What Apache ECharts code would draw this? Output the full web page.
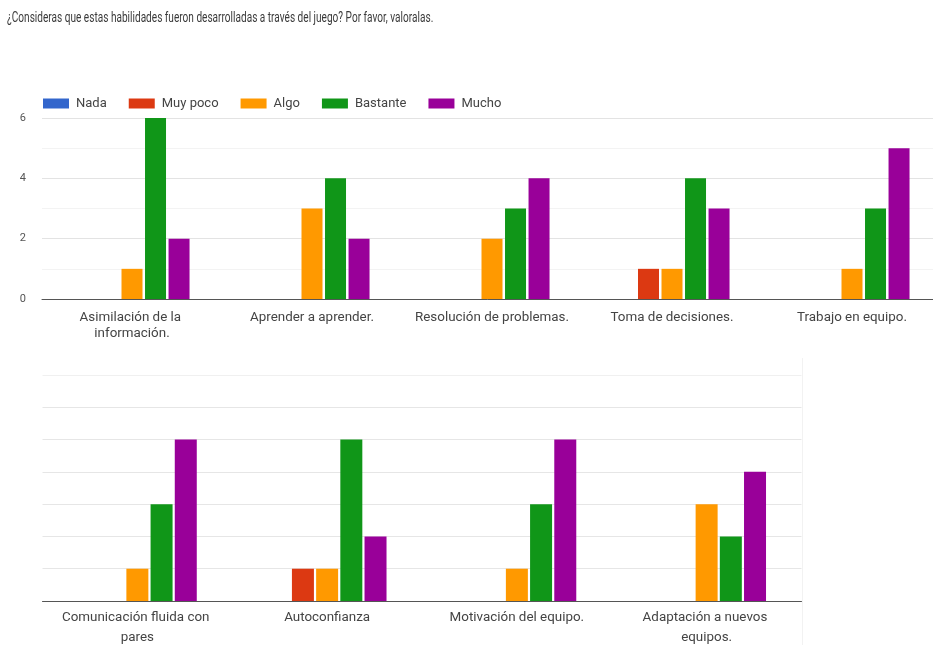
<!DOCTYPE html>
<html>
<head>
<meta charset="utf-8">
<script src="https://cdn.jsdelivr.net/npm/echarts@6/dist/echarts.min.js"></script>
<style>
  html, body { margin: 0; padding: 0; background: #fff; }
  #chart { width: 933px; height: 645px; }
</style>
</head>
<body>
<div id="chart"></div>
<script>
const titleText = "¿Consideras que estas habilidades fueron desarrolladas a través del juego? Por favor, valoralas.";
const levels = ["Nada", "Muy poco", "Algo", "Bastante", "Mucho"];
const levelColors = ["#3366cc", "#dc3912", "#ff9900", "#109618", "#990099"];

const topCategories = ["Asimilación de la información.", "Aprender a aprender.", "Resolución de problemas.", "Toma de decisiones.", "Trabajo en equipo."];
const topNada     = [0, 0, 0, 0, 0];
const topMuyPoco  = [0, 0, 0, 1, 0];
const topAlgo     = [1, 3, 2, 1, 1];
const topBastante = [6, 4, 3, 4, 3];
const topMucho    = [2, 2, 4, 3, 5];

const bottomCategories = ["Comunicación fluida con pares", "Autoconfianza", "Motivación del equipo.", "Adaptación a nuevos equipos."];
const bottomNada     = [0, 0, 0, 0];
const bottomMuyPoco  = [0, 1, 0, 0];
const bottomAlgo     = [1, 1, 1, 3];
const bottomBastante = [3, 5, 3, 2];
const bottomMucho    = [5, 2, 5, 4];

const topYTicks = [0, 2, 4, 6];

const topSeriesData = [topNada, topMuyPoco, topAlgo, topBastante, topMucho];
const bottomSeriesData = [bottomNada, bottomMuyPoco, bottomAlgo, bottomBastante, bottomMucho];

const font = "Roboto, 'Liberation Sans', Arial, sans-serif";

const series = [];
levels.forEach((name, i) => {
  series.push({
    name, type: 'bar', xAxisIndex: 0, yAxisIndex: 0,
    data: topSeriesData[i], barWidth: 21, barGap: '12%',
    itemStyle: { color: levelColors[i] }, silent: true
  });
});
levels.forEach((name, i) => {
  series.push({
    name, type: 'bar', xAxisIndex: 1, yAxisIndex: 1,
    data: bottomSeriesData[i], barWidth: 22, barGap: '10%',
    itemStyle: { color: levelColors[i] }, silent: true
  });
});

const chart = echarts.init(document.getElementById('chart'));
chart.setOption({
  animation: false,
  backgroundColor: '#ffffff',
  legend: {
    data: levels,
    left: 38, top: 92,
    itemWidth: 26, itemHeight: 10, itemGap: 22,
    icon: 'rect',
    textStyle: { fontFamily: font, fontSize: 13, color: '#444', padding: [0, 0, 0, 2] },
    selectedMode: false
  },
  grid: [
    { left: 42, top: 118, width: 900, height: 181, outerBoundsMode: 'none', containLabel: false },
    { left: 42.5, top: 375, width: 759, height: 226, outerBoundsMode: 'none', containLabel: false }
  ],
  xAxis: [
    {
      type: 'category', gridIndex: 0, data: topCategories,
      axisTick: { show: false },
      axisLine: { lineStyle: { color: '#555', width: 1 } },
      axisLabel: { fontFamily: font, fontSize: 13.4, color: '#444', margin: 11, lineHeight: 16,
                   width: 165, overflow: 'break', interval: 0 }
    },
    {
      type: 'category', gridIndex: 1, data: bottomCategories,
      axisTick: { show: false },
      axisLine: { lineStyle: { color: '#555', width: 1 } },
      axisLabel: { fontFamily: font, fontSize: 13.4, color: '#444', margin: 7, lineHeight: 20,
                   width: 165, overflow: 'break', interval: 0 }
    }
  ],
  yAxis: [
    {
      type: 'value', gridIndex: 0, min: topYTicks[0], max: topYTicks[topYTicks.length - 1], interval: 2,
      axisLabel: { fontFamily: font, fontSize: 11, color: '#555', margin: 16 },
      splitLine: { lineStyle: { color: '#e3e3e3' } },
      minorTick: { show: false, splitNumber: 2 },
      minorSplitLine: { show: true, lineStyle: { color: '#f3f3f3' } }
    },
    {
      type: 'value', gridIndex: 1, min: 0, max: 7, interval: 1,
      axisLabel: { show: false },
      splitLine: { lineStyle: { color: ['#e6e6e6','#e6e6e6','#e6e6e6','#e6e6e6','#e6e6e6','#e6e6e6','#e6e6e6','#f0f0f0'] } }
    }
  ],
  graphic: [
    {
      type: 'text', x: 7, y: 11, scaleX: 0.72, silent: true,
      style: { text: titleText, font: "14px Roboto, 'Liberation Sans', sans-serif", fill: '#3a3a3a' }
    },
    { type: 'line', shape: { x1: 802.5, y1: 358, x2: 802.5, y2: 645 }, style: { stroke: '#f2f2f2', lineWidth: 1 }, silent: true }
  ],
  series
});
</script>
</body>
</html>
